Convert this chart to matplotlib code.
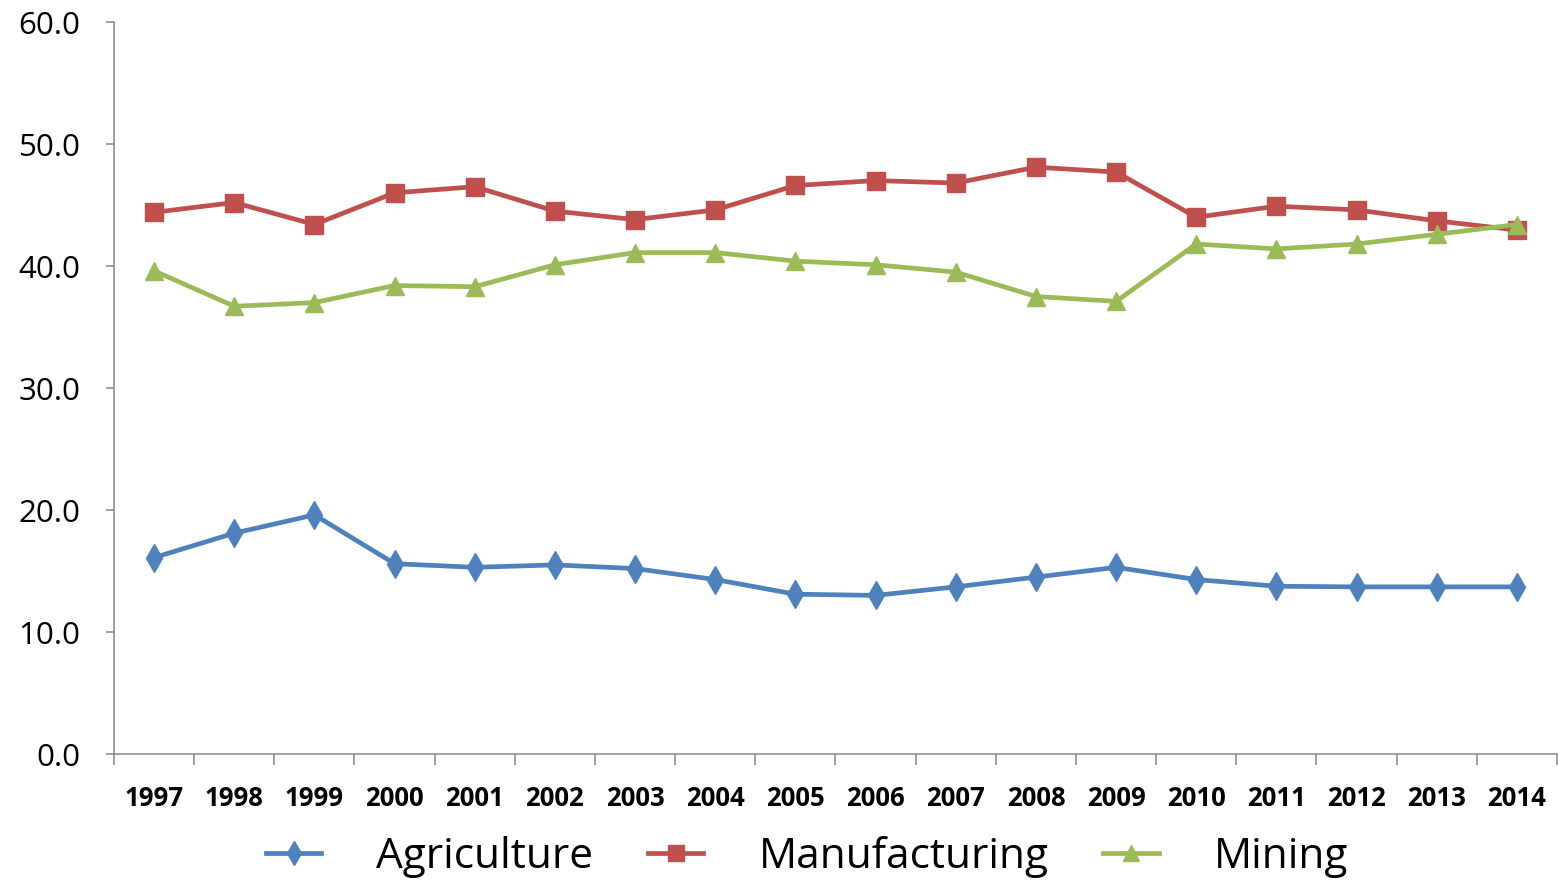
import matplotlib

matplotlib.use("Agg")
import matplotlib.pyplot as plt
from matplotlib.ticker import FixedLocator, MultipleLocator, FormatStrFormatter

YEARS = [str(y) for y in range(1997, 2015)]
AGRICULTURE = [16.1, 18.1, 19.6, 15.6, 15.3, 15.5, 15.2, 14.3, 13.1,
               13.0, 13.7, 14.5, 15.3, 14.3, 13.75, 13.7, 13.7, 13.7]
MANUFACTURING = [44.4, 45.2, 43.4, 46.0, 46.5, 44.5, 43.8, 44.6, 46.6,
                 47.0, 46.8, 48.1, 47.7, 44.0, 44.9, 44.6, 43.7, 42.95]
MINING = [39.6, 36.7, 37.0, 38.4, 38.3, 40.1, 41.1, 41.1, 40.4,
          40.1, 39.5, 37.5, 37.1, 41.8, 41.4, 41.8, 42.6, 43.4]

SERIES = [
    ("Agriculture", AGRICULTURE, "#4F81BD", "d", 14),
    ("Manufacturing", MANUFACTURING, "#C0504D", "s", 13.5),
    ("Mining", MINING, "#9BBB59", "^", 13),
]

AXIS_GREY = "#868686"
FONT = ["Open Sans", "DejaVu Sans"]

fig = plt.figure(figsize=(15.58, 8.83), dpi=100)
ax = fig.add_axes([114 / 1558, 129 / 883, 1443 / 1558, 732 / 883])

x = list(range(len(YEARS)))
for name, values, color, marker, size in SERIES:
    ax.plot(x, values, color=color, linewidth=3.4, marker=marker,
            markersize=size, markerfacecolor=color, markeredgecolor=color,
            label=name, solid_joinstyle="round")

ax.set_xlim(-0.5, len(YEARS) - 0.5)
ax.set_ylim(0, 60)

# year labels sit between the category boundary ticks
ax.set_xticks(x)
ax.set_xticklabels(YEARS, fontsize=18.5, fontweight="bold", family=FONT)
ax.xaxis.set_minor_locator(FixedLocator([i - 0.5 for i in range(len(YEARS) + 1)]))
ax.tick_params(axis="x", which="major", length=0, pad=22)
ax.tick_params(axis="x", which="minor", length=8, width=1.1, color=AXIS_GREY)

ax.yaxis.set_major_locator(MultipleLocator(10))
ax.yaxis.set_major_formatter(FormatStrFormatter("%.1f"))
ax.tick_params(axis="y", length=6, width=1.1, color=AXIS_GREY, pad=18,
               labelsize=22.5)
for label in ax.get_yticklabels():
    label.set_family(FONT)

for side in ("top", "right"):
    ax.spines[side].set_visible(False)
for side in ("left", "bottom"):
    ax.spines[side].set_color(AXIS_GREY)
    ax.spines[side].set_linewidth(1.1)

fig.legend(loc="center", bbox_to_anchor=(807 / 1558, 1 - 857 / 883), ncol=3,
           frameon=False, prop={"family": FONT, "size": 30.5},
           handlelength=1.3, handletextpad=1.3, columnspacing=1.3,
           markerscale=0.85, borderpad=0.2)

fig.savefig("out.png", dpi=100)
